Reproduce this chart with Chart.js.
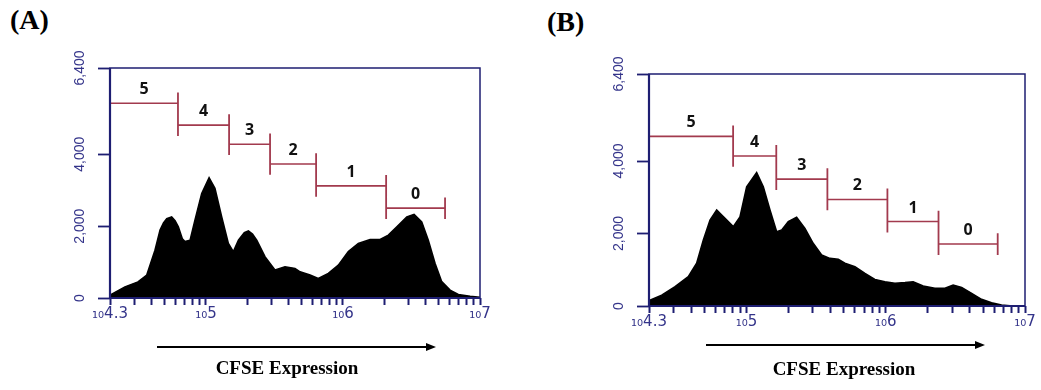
<!DOCTYPE html>
<html lang="en">
<head>
<meta charset="utf-8">
<title>CFSE proliferation</title>
<script src="https://cdn.jsdelivr.net/npm/chart.js@4.4.0/dist/chart.umd.min.js"></script>
<style>
  body { margin: 0; background: #fff; width: 1041px; height: 390px; position: relative; overflow: hidden; }
  canvas { position: absolute; top: 0; }
  .tag { position: absolute; font: bold 28px "Liberation Serif", "Times New Roman", serif; line-height: 28px; }
  .xtitle { position: absolute; font: bold 19px "Liberation Serif", "Times New Roman", serif; line-height: 20px;
            transform: translateX(-50%); white-space: nowrap; }
  svg { position: absolute; left: 0; top: 0; }
</style>
</head>
<body>
<div class="tag" style="left:10px;top:6px">(A)</div>
<div class="tag" style="left:547px;top:8px">(B)</div>

<canvas id="chartA" style="left:0px" width="520" height="330"></canvas>
<canvas id="chartB" style="left:540px" width="500" height="340"></canvas>

<svg width="1041" height="390">
  <line x1="157" y1="347" x2="428" y2="347" stroke="#000" stroke-width="2"/>
  <polygon points="436,347 426,343 426,351" fill="#000"/>
  <line x1="706" y1="345" x2="977" y2="345" stroke="#000" stroke-width="2"/>
  <polygon points="985,345 975,341 975,349" fill="#000"/>
</svg>
<div class="xtitle" style="left:287px;top:358px">CFSE Expression</div>
<div class="xtitle" style="left:844px;top:359px">CFSE Expression</div>

<script>
// histogram A (x = log10 of CFSE channel, y = count)
var expA = [4.300, 4.409, 4.504, 4.568, 4.628, 4.665, 4.690, 4.714, 4.750, 4.775, 4.799, 4.828,
            4.847, 4.884, 4.920, 4.969, 5.023, 5.066, 5.115, 5.164, 5.200, 5.237, 5.280, 5.310,
            5.340, 5.371, 5.431, 5.504, 5.577, 5.650, 5.687, 5.760, 5.820, 5.893, 5.966, 6.039,
            6.112, 6.198, 6.271, 6.331, 6.393, 6.466, 6.519, 6.575, 6.623, 6.672, 6.721, 6.782,
            6.842, 6.928, 7.000];
var countA = [80, 310, 450, 640, 1330, 1890, 2090, 2210, 2260, 2150, 1980, 1650,
              1570, 1610, 2170, 2910, 3350, 3050, 2260, 1520, 1290, 1610, 1820, 1870,
              1780, 1610, 1150, 780, 870, 825, 730, 640, 545, 685, 915, 1290,
              1520, 1630, 1630, 1750, 1980, 2260, 2330, 2120, 1610, 965, 455, 220,
              100, 50, 20];

// histogram B
var expB = [4.300, 4.391, 4.487, 4.582, 4.642, 4.690, 4.738, 4.786, 4.846, 4.905, 4.953, 5.001,
            5.073, 5.121, 5.169, 5.217, 5.253, 5.300, 5.360, 5.420, 5.479, 5.540, 5.599, 5.659,
            5.707, 5.779, 5.851, 5.922, 5.994, 6.066, 6.138, 6.197, 6.269, 6.353, 6.425, 6.484,
            6.545, 6.617, 6.688, 6.760, 6.832, 6.892, 7.000];
var countB = [150, 300, 535, 810, 1180, 1820, 2370, 2650, 2420, 2190, 2460, 3290,
              3680, 3290, 2650, 2050, 2100, 2330, 2450, 2140, 1730, 1410, 1315, 1290,
              1180, 1085, 900, 735, 670, 625, 645, 670, 550, 490, 490, 580,
              515, 350, 185, 90, 30, 10, 0];

// division gates (generation number, edges in log10, marker height in counts)
var gateNames = ['5', '4', '3', '2', '1', '0'];
var gateEdgesA = [4.3, 4.796, 5.169, 5.468, 5.804, 6.315, 6.745];
var gateLevelsA = [5420, 4810, 4280, 3730, 3120, 2500];
var gateEdgesB = [4.3, 4.904, 5.214, 5.581, 6.012, 6.379, 6.804];
var gateLevelsB = [4680, 4140, 3500, 2940, 2330, 1710];
var barHalf = 300;

// axes
var yTicks = [0, 2000, 4000, 6400];
var xTickValues = [Math.pow(10, 4.3), 3e4, 4e4, 5e4, 6e4, 7e4, 8e4, 9e4,
                   1e5, 2e5, 3e5, 4e5, 5e5, 6e5, 7e5, 8e5, 9e5,
                   1e6, 2e6, 3e6, 4e6, 5e6, 6e6, 7e6, 8e6, 9e6, 1e7];
var xLabelExps = [4.3, 5, 6, 7];
var xLabelText = ['\u2081\u20804.3', '\u2081\u20805', '\u2081\u20806', '\u2081\u20807'];

var navy = '#1e1e72';
var labelBlue = '#34348a';
var gateRed = '#a23a4e';

var framePlugin = {
  id: 'frame',
  afterDatasetsDraw: function(chart) {
    var a = chart.chartArea, ctx = chart.ctx;
    ctx.save();
    ctx.strokeStyle = navy;
    ctx.lineWidth = 1.5;
    ctx.strokeRect(a.left, a.top, a.right - a.left, a.bottom - a.top);
    ctx.lineWidth = 2.2;
    ctx.beginPath();
    ctx.moveTo(a.left, a.top);
    ctx.lineTo(a.left, a.bottom);
    ctx.lineTo(a.right, a.bottom);
    ctx.stroke();
    ctx.restore();
  }
};

var gateLabelPlugin = {
  id: 'gateLabels',
  afterDatasetsDraw: function(chart, args, opts) {
    var ctx = chart.ctx, xs = chart.scales.x, ys = chart.scales.y;
    ctx.save();
    ctx.fillStyle = '#111';
    ctx.font = 'bold 16px "Open Sans", "Liberation Sans", sans-serif';
    ctx.textAlign = 'center';
    ctx.textBaseline = 'alphabetic';
    for (var i = 0; i < opts.levels.length; i++) {
      var mid = (opts.edges[i] + opts.edges[i + 1]) / 2;
      ctx.fillText(gateNames[i], xs.getPixelForValue(Math.pow(10, mid)), ys.getPixelForValue(opts.levels[i]) - 9);
    }
    ctx.restore();
  }
};

function makeChart(id, exps, counts, edges, levels, pad) {
  var hist = exps.map(function(e, i) { return {x: Math.pow(10, e), y: counts[i]}; });
  var horiz = [], vert = [];
  levels.forEach(function(lv, i) {
    var x0 = Math.pow(10, edges[i]), x1 = Math.pow(10, edges[i + 1]);
    horiz.push({x: x0, y: lv}, {x: x1, y: lv}, {x: x1, y: null});
    var next = levels[i + 1];
    var hi = next === undefined ? lv : Math.max(lv, next);
    var lo = next === undefined ? lv : Math.min(lv, next);
    vert.push({x: x1, y: hi + barHalf}, {x: x1, y: lo - barHalf}, {x: x1, y: null});
  });

  return new Chart(document.getElementById(id), {
    type: 'line',
    data: {
      datasets: [
        {data: horiz, borderColor: gateRed, borderWidth: 1.6, pointRadius: 0, spanGaps: false, fill: false},
        {data: vert, borderColor: gateRed, borderWidth: 1.8, pointRadius: 0, spanGaps: false, fill: false},
        {data: hist, borderColor: '#000', backgroundColor: '#000', borderWidth: 1.5, pointRadius: 0,
         tension: 0, fill: 'origin'}
      ]
    },
    options: {
      responsive: false,
      animation: false,
      events: [],
      layout: {padding: pad},
      plugins: {
        legend: {display: false},
        tooltip: {enabled: false},
        gateLabels: {edges: edges, levels: levels}
      },
      scales: {
        x: {
          type: 'logarithmic',
          min: Math.pow(10, 4.3),
          max: 1e7,
          afterFit: function(s) { s.height = 28; },
          afterBuildTicks: function(s) { s.ticks = xTickValues.map(function(v) { return {value: v}; }); },
          grid: {drawOnChartArea: false, tickLength: 7, tickColor: navy, tickWidth: 2},
          border: {display: false},
          ticks: {
            autoSkip: false, maxRotation: 0, minRotation: 0, padding: 0,
            color: labelBlue,
            font: {family: '"DejaVu Sans", sans-serif', size: 15},
            callback: function(v) {
              var e = Math.log10(v);
              for (var i = 0; i < xLabelExps.length; i++) {
                if (Math.abs(xLabelExps[i] - e) < 0.001) return xLabelText[i];
              }
              return '';
            }
          }
        },
        y: {
          min: 0,
          max: 6400,
          afterFit: function(s) { s.width = 50; },
          afterBuildTicks: function(s) { s.ticks = yTicks.map(function(v) { return {value: v}; }); },
          grid: {drawOnChartArea: false, tickLength: 12, tickColor: navy, tickWidth: 1.8},
          border: {display: false},
          ticks: {
            minRotation: 90, maxRotation: 90, crossAlign: 'center', padding: 0,
            color: labelBlue,
            font: {family: '"Liberation Sans", Arial, sans-serif', size: 14},
            callback: function(v) { return v === 0 ? '0' : v.toLocaleString('en-US'); }
          }
        }
      }
    },
    plugins: [framePlugin, gateLabelPlugin]
  });
}

makeChart('chartA', expA, countA, gateEdgesA, gateLevelsA, {left: 60, right: 40, top: 68, bottom: 4});
makeChart('chartB', expB, countB, gateEdgesB, gateLevelsB, {left: 59, right: 15, top: 74, bottom: 6});
</script>
</body>
</html>
